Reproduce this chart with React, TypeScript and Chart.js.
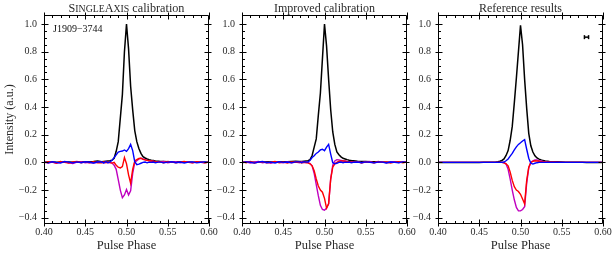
import { useEffect, useRef } from "react";
import { Chart, registerables } from "chart.js";

Chart.register(...registerables);

// ---- data ----
const phases = [
  0.400, 0.405, 0.410, 0.415, 0.420, 0.425, 0.430, 0.435, 0.440, 0.445, 0.450, 0.455, 0.460, 0.465,
  0.4700, 0.4725, 0.4750, 0.4775, 0.4800, 0.4825, 0.4850, 0.4875, 0.4900, 0.4925, 0.4950, 0.4975, 0.5000,
  0.5025, 0.5050, 0.5075, 0.5100, 0.5125, 0.5150, 0.5175, 0.5200, 0.5225, 0.5250, 0.5275, 0.5300, 0.5325, 0.5350,
  0.540, 0.545, 0.550, 0.555, 0.560, 0.565, 0.570, 0.575, 0.580, 0.585, 0.590, 0.595, 0.600,
];

// Panel 1: SingleAxis calibration
const saTotal = [
  0.002, 0.001, 0.003, 0.002, 0.001, 0.002, 0.003, 0.002, 0.003, 0.004, 0.003, 0.005, 0.006, 0.01,
  0.004, 0.006, 0.008, 0.01, 0.012, 0.016, 0.03, 0.08, 0.15, 0.32, 0.49, 0.8, 1.0, 0.82, 0.55, 0.38, 0.23, 0.15, 0.1, 0.065, 0.042, 0.032, 0.025, 0.02, 0.016, 0.013, 0.01,
  0.008, 0.007, 0.005, 0.004, 0.004, 0.003, 0.002, 0.003, 0.002, 0.002, 0.001, 0.002, 0.001,
];
const saLinear = [
  0.004, -0.003, 0.005, 0.0, -0.004, 0.006, 0.002, -0.003, 0.004, -0.002, 0.005, 0.001, -0.004, 0.003,
  0.003, -0.004, 0.005, -0.002, 0.004, 0.015, 0.035, 0.055, 0.075, 0.08, 0.082, 0.09, 0.08, 0.1, 0.13, 0.085, 0.005, -0.017, -0.012, -0.006, 0.0, 0.003, -0.003, 0.002, 0.0, 0.003, -0.002,
  0.004, -0.003, 0.002, 0.005, -0.002, 0.003, -0.004, 0.002, 0.004, -0.003, 0.001, 0.004, -0.002,
];
const saCircular = [
  -0.003, 0.005, 0.002, -0.004, 0.006, 0.0, -0.005, 0.003, 0.007, -0.002, 0.004, -0.003, 0.005, -0.002,
  -0.003, 0.004, -0.002, 0.003, -0.002, -0.005, 0.0, -0.02, -0.035, -0.04, -0.03, 0.035, -0.01, -0.09, -0.15, -0.05, 0.01, 0.02, 0.028, 0.03, 0.022, 0.018, 0.015, 0.012, 0.01, 0.008, 0.006,
  0.005, -0.002, 0.006, 0.003, -0.003, 0.004, 0.007, 0.0, -0.003, 0.005, 0.002, -0.002, 0.003,
];
const saAbsCircular = [
  0.002, -0.004, 0.003, -0.006, 0.001, 0.004, -0.003, -0.008, 0.002, 0.005, -0.003, 0.001, -0.005, 0.003,
  0.002, -0.004, 0.003, -0.002, 0.0, -0.005, -0.02, -0.05, -0.125, -0.2, -0.255, -0.235, -0.195, -0.235, -0.205, -0.08, 0.0, 0.012, 0.025, 0.03, 0.025, 0.02, 0.015, 0.012, 0.01, 0.008, 0.006,
  0.004, 0.006, -0.002, 0.003, 0.005, -0.003, 0.002, 0.004, -0.002, 0.003, 0.001, -0.003, 0.002,
];

// Panel 2: Improved calibration
const imTotal = [
  0.002, 0.003, 0.001, 0.002, 0.003, 0.002, 0.004, 0.003, 0.002, 0.004, 0.005, 0.004, 0.006, 0.008,
  0.006, 0.006, 0.008, 0.01, 0.012, 0.02, 0.05, 0.11, 0.17, 0.34, 0.5, 0.75, 1.0, 0.84, 0.6, 0.38, 0.22, 0.13, 0.075, 0.055, 0.04, 0.03, 0.025, 0.02, 0.016, 0.013, 0.012,
  0.009, 0.007, 0.006, 0.005, 0.004, 0.003, 0.003, 0.002, 0.002, 0.002, 0.001, 0.001, 0.001,
];
const imLinear = [
  -0.003, 0.004, 0.001, -0.005, 0.003, 0.006, -0.002, 0.002, -0.004, 0.005, 0.0, 0.003, -0.003, 0.004,
  0.004, -0.003, 0.005, 0.002, 0.003, 0.015, 0.035, 0.048, 0.065, 0.075, 0.09, 0.095, 0.085, 0.11, 0.13, 0.06, -0.002, -0.01, -0.006, 0.0, 0.003, -0.002, 0.002, 0.0, 0.003, -0.002, 0.001,
  0.003, -0.002, 0.004, 0.001, -0.003, 0.003, 0.002, -0.004, 0.003, 0.001, -0.002, 0.004, 0.0,
];
const imCircular = [
  0.004, -0.002, 0.006, -0.004, 0.002, 0.005, -0.003, 0.001, 0.007, -0.002, 0.003, -0.005, 0.004, 0.001,
  0.003, -0.004, 0.002, -0.002, -0.003, -0.01, -0.025, -0.06, -0.12, -0.17, -0.2, -0.215, -0.26, -0.33, -0.3, -0.12, -0.035, -0.01, 0.0, 0.008, 0.01, 0.01, 0.008, 0.006, 0.005, 0.004, 0.003,
  0.004, -0.003, 0.005, 0.002, -0.002, 0.006, 0.0, 0.003, -0.004, 0.002, 0.005, -0.002, 0.003,
];
const imAbsCircular = [
  -0.002, 0.005, -0.004, 0.003, 0.006, -0.003, 0.002, -0.006, 0.004, 0.001, -0.003, 0.005, -0.002, 0.003,
  -0.002, 0.004, -0.003, 0.002, -0.002, -0.008, -0.025, -0.08, -0.16, -0.24, -0.31, -0.34, -0.345, -0.33, -0.3, -0.12, -0.02, 0.01, 0.02, 0.018, 0.015, 0.012, 0.01, 0.007, 0.006, 0.004, 0.003,
  0.005, -0.002, 0.003, 0.006, -0.003, 0.002, 0.004, -0.002, 0.003, 0.005, -0.001, 0.002, 0.003,
];

// Panel 3: Reference results
const refTotal = [
  0, 0, 0, 0, 0, 0, 0, 0, 0, 0, 0, 0.001, 0.001, 0.002,
  0.003, 0.005, 0.008, 0.014, 0.025, 0.05, 0.085, 0.16, 0.26, 0.43, 0.61, 0.8, 0.99, 0.85, 0.6, 0.39, 0.21, 0.12, 0.075, 0.048, 0.032, 0.024, 0.018, 0.013, 0.01, 0.008, 0.006,
  0.005, 0.004, 0.003, 0.002, 0.002, 0.001, 0.001, 0.001, 0, 0, 0, 0, 0,
];
const refLinear = [
  0, 0, 0, 0, 0, 0, 0, 0, 0, 0, 0, 0, 0, 0,
  0, 0, 0, 0, 0.003, 0.012, 0.025, 0.045, 0.065, 0.09, 0.112, 0.13, 0.142, 0.155, 0.165, 0.095, 0.03, -0.006, -0.012, -0.006, -0.002, 0, 0, 0, 0, 0, 0,
  0, 0, 0, 0, 0, 0, 0, 0, 0, 0, 0, 0, 0,
];
const refCircular = [
  0, 0, 0, 0, 0, 0, 0, 0, 0, 0, 0, 0, 0, 0,
  0, 0, 0, 0, -0.002, -0.01, -0.025, -0.07, -0.13, -0.175, -0.2, -0.21, -0.23, -0.265, -0.3, -0.13, -0.035, 0.0, 0.008, 0.012, 0.01, 0.008, 0.006, 0.004, 0.003, 0.002, 0.001,
  0.001, 0, 0, 0, 0, 0, 0, 0, 0, 0, 0, 0, 0,
];
const refAbsCircular = [
  0, 0, 0, 0, 0, 0, 0, 0, 0, 0, 0, 0, 0, 0,
  0, 0, 0, 0, -0.002, -0.012, -0.05, -0.12, -0.2, -0.27, -0.325, -0.35, -0.35, -0.34, -0.32, -0.15, -0.04, 0.0, 0.012, 0.018, 0.017, 0.013, 0.01, 0.007, 0.005, 0.003, 0.002,
  0.001, 0.001, 0, 0, 0, 0, 0, 0, 0, 0, 0, 0, 0,
];

// error-bar marker in panel 3
const errPhase = [0.5775, 0.5825];
const errValue = [0.905, 0.905];

const xTickValues = [0.4, 0.45, 0.5, 0.55, 0.6];
const yTickValues = [-0.4, -0.2, 0.0, 0.2, 0.4, 0.6, 0.8, 1.0];

const SERIF = "'Liberation Serif', 'Times New Roman', serif";
const TEXT = "#2a2a2a";

type Part = { t: string; s: number };

const framePlugin = {
  id: "frame",
  afterDatasetsDraw(chart: any, _args: any, opts: any) {
    const { ctx, chartArea } = chart;
    const { left, right, top, bottom } = chartArea;
    const xs = chart.scales.x;
    const ys = chart.scales.y;
    ctx.save();
    ctx.strokeStyle = "#000";
    ctx.lineWidth = 1;
    const L = Math.round(left) + 0.5;
    const R = Math.round(right) - 0.5;
    const T = Math.round(top) + 0.5;
    const B = Math.round(bottom) - 0.5;
    ctx.beginPath();
    ctx.rect(L, T, R - L, B - T);
    ctx.stroke();
    ctx.beginPath();
    for (let i = 0; i <= 20; i++) {
      const v = 0.4 + i * 0.01;
      const major = i % 5 === 0;
      const p = Math.round(xs.getPixelForValue(v)) + 0.5;
      const inn = major ? 4 : 2.5;
      const out = major ? 3 : 0;
      ctx.moveTo(p, B + out);
      ctx.lineTo(p, B - inn);
      ctx.moveTo(p, T - out);
      ctx.lineTo(p, T + inn);
    }
    for (let i = 0; i <= 28; i++) {
      const v = -0.4 + i * 0.05;
      const major = i % 4 === 0;
      const p = Math.round(ys.getPixelForValue(v)) + 0.5;
      const inn = major ? 4 : 2.5;
      const out = major ? 3 : 0;
      ctx.moveTo(L - out, p);
      ctx.lineTo(L + inn, p);
      ctx.moveTo(R + out, p);
      ctx.lineTo(R - inn, p);
    }
    ctx.stroke();

    const parts: Part[] = opts.title || [];
    ctx.fillStyle = TEXT;
    ctx.textBaseline = "alphabetic";
    let total = 0;
    for (const p of parts) {
      ctx.font = `${p.s}px ${SERIF}`;
      total += ctx.measureText(p.t).width;
    }
    let x = (left + right) / 2 - total / 2;
    for (const p of parts) {
      ctx.font = `${p.s}px ${SERIF}`;
      ctx.textAlign = "left";
      ctx.fillText(p.t, x, 12);
      x += ctx.measureText(p.t).width;
    }
    if (opts.note) {
      ctx.font = `10px ${SERIF}`;
      ctx.textAlign = "left";
      ctx.fillStyle = "#111";
      ctx.fillText(opts.note, left + 9, top + 17);
    }
    ctx.restore();
  },
};

type Series = { total: number[]; linear: number[]; circ: number[]; absCirc: number[] };

function pts(v: number[]) {
  return phases.map((p, i) => ({ x: p, y: v[i] }));
}

function Panel(props: {
  left: number;
  width: number;
  yWidth: number;
  padRight: number;
  yTitle: boolean;
  title: Part[];
  note?: string;
  series: Series;
  err?: boolean;
}) {
  const ref = useRef<HTMLCanvasElement>(null);
  useEffect(() => {
    const s = props.series;
    const line = (data: number[], color: string, order: number, w = 1.4) => ({
      data: pts(data),
      borderColor: color,
      backgroundColor: color,
      borderWidth: w,
      pointRadius: 0,
      fill: false,
      tension: 0,
      order,
    });
    const datasets: any[] = [
      line(s.linear, "#0000ff", 1),
      line(s.circ, "#ff0000", 2),
      line(s.absCirc, "#bf00bf", 3),
      line(s.total, "#000000", 4, 1.5),
    ];
    if (props.err) {
      datasets.push({
        data: errPhase.map((p, i) => ({ x: p, y: errValue[i] })),
        borderColor: "#000",
        backgroundColor: "#000",
        borderWidth: 1.5,
        pointStyle: "line",
        rotation: 90,
        pointRadius: 2,
        pointBorderWidth: 1.5,
        order: 0,
      });
    }
    const chart = new Chart(ref.current as HTMLCanvasElement, {
      type: "line",
      data: { datasets },
      plugins: [framePlugin],
      options: {
        animation: false,
        responsive: false,
        devicePixelRatio: 1,
        layout: { padding: { top: 15, right: props.padRight, left: 0, bottom: 0 } },
        plugins: {
          legend: { display: false },
          tooltip: { enabled: false },
          frame: { title: props.title, note: props.note },
        } as any,
        scales: {
          x: {
            type: "linear",
            min: 0.4,
            max: 0.6,
            grid: { display: false, drawTicks: false },
            border: { display: false },
            afterBuildTicks: (sc: any) => {
              sc.ticks = xTickValues.map((v) => ({ value: v }));
            },
            afterFit: (sc: any) => {
              sc.height = 32;
            },
            ticks: {
              autoSkip: false,
              maxRotation: 0,
              padding: 2,
              color: TEXT,
              font: { family: SERIF, size: 10 },
              callback: (v: any) => Number(v).toFixed(2),
            },
            title: {
              display: true,
              text: "Pulse Phase",
              color: TEXT,
              font: { family: SERIF, size: 12.5 },
              padding: { top: 0, bottom: 3 },
            },
          },
          y: {
            type: "linear",
            min: -0.445,
            max: 1.065,
            grid: { display: false, drawTicks: false },
            border: { display: false },
            afterBuildTicks: (sc: any) => {
              sc.ticks = yTickValues.map((v) => ({ value: v }));
            },
            afterFit: (sc: any) => {
              sc.width = props.yWidth;
            },
            ticks: {
              autoSkip: false,
              padding: 7,
              color: TEXT,
              font: { family: SERIF, size: 10 },
              callback: (v: any) => {
                const n = Number(v);
                const s = Math.abs(n).toFixed(1);
                return n < -1e-9 ? "\u2212" + s : s;
              },
            },
            title: {
              display: props.yTitle,
              text: "Intensity (a.u.)",
              color: TEXT,
              font: { family: SERIF, size: 12 },
              padding: { top: 3, bottom: 0 },
            },
          },
        },
      } as any,
    });
    return () => chart.destroy();
  }, []);
  return (
    <canvas
      ref={ref}
      width={props.width}
      height={256}
      style={{ position: "absolute", left: props.left, top: 0, width: props.width, height: 256 }}
    />
  );
}

export default function App() {
  const small = 9.8;
  const big = 12.2;
  return (
    <div style={{ position: "absolute", left: 0, top: 0, width: 616, height: 256, background: "#fff" }}>
      <Panel
        left={0}
        width={220}
        yWidth={44}
        padRight={11}
        yTitle={true}
        title={[
          { t: "S", s: big },
          { t: "INGLE", s: small },
          { t: "A", s: big },
          { t: "XIS", s: small },
          { t: " calibration", s: big },
        ]}
        note={"J1909\u22123744"}
        series={{ total: saTotal, linear: saLinear, circ: saCircular, absCirc: saAbsCircular }}
      />
      <Panel
        left={212}
        width={206}
        yWidth={30}
        padRight={11}
        yTitle={false}
        title={[{ t: "Improved calibration", s: 12 }]}
        series={{ total: imTotal, linear: imLinear, circ: imCircular, absCirc: imAbsCircular }}
      />
      <Panel
        left={408}
        width={208}
        yWidth={30}
        padRight={13}
        yTitle={false}
        title={[{ t: "Reference results", s: 12 }]}
        series={{ total: refTotal, linear: refLinear, circ: refCircular, absCirc: refAbsCircular }}
        err={true}
      />
    </div>
  );
}
